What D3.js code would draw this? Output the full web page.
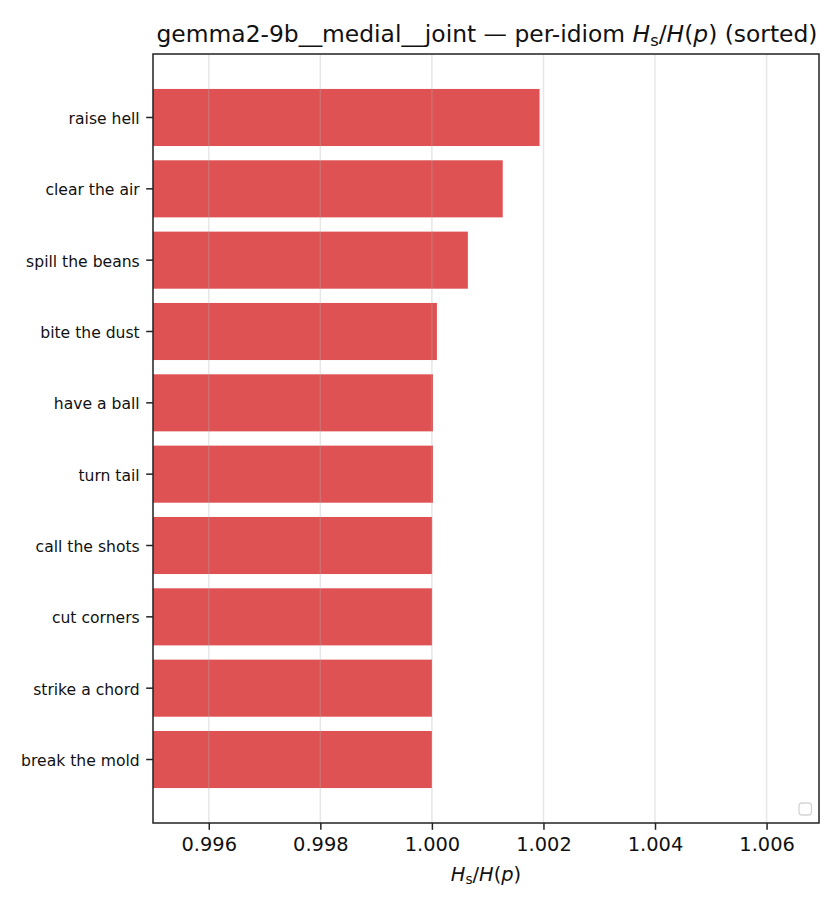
<!DOCTYPE html>
<html>
<head>
<meta charset="utf-8">
<script src="https://cdn.jsdelivr.net/npm/d3@7"></script>
<style>
  html, body { margin: 0; padding: 0; background: #fff; }
  svg { display: block; font-family: "DejaVu Sans", sans-serif; }
</style>
</head>
<body>
<svg id="chart" width="840" height="910"></svg>
<script>
const idioms = ["raise hell", "clear the air", "spill the beans", "bite the dust", "have a ball",
                "turn tail", "call the shots", "cut corners", "strike a chord", "break the mold"];
const ratios = [1.00193, 1.00127, 1.000645, 1.00009, 1.00002,
                1.00002, 1.000004, 1.000003, 1.000002, 1.000001];
const xTicks = [0.996, 0.998, 1.000, 1.002, 1.004, 1.006];
const xDomain = [0.995, 1.00694];

const W = 840, H = 910;
const margin = {top: 54, right: 21, bottom: 87, left: 153};
const iw = W - margin.left - margin.right;
const ih = H - margin.top - margin.bottom;

const svg = d3.select("#chart");
const g = svg.append("g").attr("transform", `translate(${margin.left},${margin.top})`);

const x = d3.scaleLinear().domain(xDomain).range([0, iw]);
const y = d3.scaleBand().domain(idioms).range([0, ih]).paddingInner(0.2).paddingOuter(0.49);

// bars
g.selectAll("rect.bar").data(idioms).join("rect")
  .attr("class", "bar")
  .attr("x", 0)
  .attr("y", d => y(d))
  .attr("width", (d, i) => x(ratios[i]) - x(xDomain[0]))
  .attr("height", y.bandwidth())
  .attr("fill", "#d62728").attr("fill-opacity", 0.8);

// grid (on top, translucent)
g.append("g").selectAll("line").data(xTicks).join("line")
  .attr("x1", d => x(d)).attr("x2", d => x(d))
  .attr("y1", 0).attr("y2", ih)
  .attr("stroke", "#b0b0b0").attr("stroke-opacity", 0.3).attr("stroke-width", 1.5);

// x axis
const xAxis = g.append("g").attr("transform", `translate(0,${ih})`)
  .call(d3.axisBottom(x).tickValues(xTicks).tickFormat(d3.format(".3f")).tickSize(6.8).tickPadding(7.5));
xAxis.select(".domain").remove();
xAxis.selectAll(".tick line").attr("stroke", "#222").attr("stroke-width", 1.5);
xAxis.selectAll(".tick text").attr("font-size", 19.4).attr("fill", "#111")
  .attr("font-family", "DejaVu Sans");

// y axis
const yAxis = g.append("g")
  .call(d3.axisLeft(y).tickSize(6.8).tickPadding(6.5));
yAxis.select(".domain").remove();
yAxis.selectAll(".tick line").attr("stroke", "#222").attr("stroke-width", 1.5);
yAxis.selectAll(".tick text").attr("font-size", 15.6).attr("fill", "#111")
  .attr("font-family", "DejaVu Sans").attr("dy", "0.42em");

// spines
g.append("rect").attr("x", 0).attr("y", 0).attr("width", iw).attr("height", ih)
  .attr("fill", "none").attr("stroke", "#222").attr("stroke-width", 1.5);

// empty legend box
g.append("rect").attr("x", iw - 20).attr("y", ih - 20).attr("width", 12.5).attr("height", 12)
  .attr("rx", 3).attr("fill", "#fff").attr("stroke", "#d5d5d5").attr("stroke-width", 1.3);

// title
const title = svg.append("text").attr("x", margin.left + iw / 2 + 1).attr("y", 42)
  .attr("text-anchor", "middle").attr("font-size", 23.4).attr("fill", "#111");
title.append("tspan").text("gemma2-9b__medial__joint \u2014 per-idiom ");
title.append("tspan").attr("font-style", "italic").text("H");
title.append("tspan").attr("font-size", 16.3).attr("dy", 3.5).text("s");
title.append("tspan").attr("dy", -3.5).text("/");
title.append("tspan").attr("font-style", "italic").text("H");
title.append("tspan").text("(");
title.append("tspan").attr("font-style", "italic").text("p");
title.append("tspan").text(") (sorted)");

// x label
const xl = svg.append("text").attr("x", margin.left + iw / 2).attr("y", 881)
  .attr("text-anchor", "middle").attr("font-size", 19.4).attr("fill", "#111");
xl.append("tspan").attr("font-style", "italic").text("H");
xl.append("tspan").attr("font-size", 13.6).attr("dy", 3).text("s");
xl.append("tspan").attr("dy", -3).text("/");
xl.append("tspan").attr("font-style", "italic").text("H");
xl.append("tspan").text("(");
xl.append("tspan").attr("font-style", "italic").text("p");
xl.append("tspan").text(")");
</script>
</body>
</html>
